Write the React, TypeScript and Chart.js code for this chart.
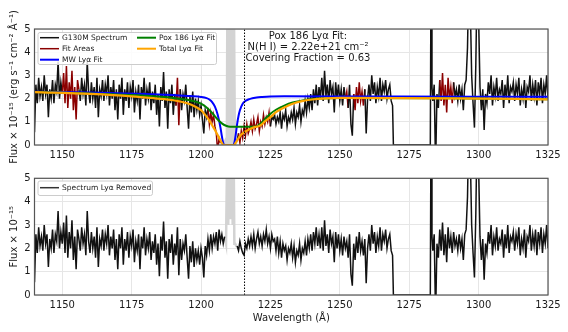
import React, { useEffect, useRef } from 'react';
import { Chart, registerables } from 'chart.js';

Chart.register(...registerables);

const FONT = "'DejaVu Sans', sans-serif";
const STEP = 0.5;

// ---------- tick labels ----------
const xTickValues = [1150, 1175, 1200, 1225, 1250, 1275, 1300, 1325];
const yTickValues = [0, 1, 2, 3, 4, 5];

// ---------- G130M spectrum (top panel), sampled every 0.5 Å ----------
const specTopA_start = 1140;
const specTopA = [
  0.55, 2.6, 1.8, 2.9, 2.1, 2.5, 1.9, 3.0, 2.2, 2.6,
  1.2, 2.4, 2.0, 2.8, 1.8, 2.6, 2.3, 3.6, 2.0, 2.7,
  2.2, 3.1, 1.8, 3.4, 1.6, 2.7, 2.0, 3.2, 1.5, 2.5,
  1.1, 2.8, 2.4, 1.9, 2.9, 2.2, 2.6, 1.7, 3.6, 2.3,
  1.8, 2.7, 2.0, 2.5, 1.6, 2.9, 1.2, 2.4, 2.1, 2.8,
  1.9, 2.6, 2.2, 3.0, 1.7, 2.5, 2.0, 2.8, 1.5, 2.4,
  1.1, 2.6, 2.0, 2.9, 1.3, 2.4, 1.9, 2.7, 1.6, 2.5,
  2.1, 2.8, 1.4, 2.3, 1.9, 2.6, 1.1, 2.5, 2.0, 2.9,
  1.7, 2.4, 2.0, 2.7, 1.5, 2.3, 1.8, 2.6, 1.3, 2.2,
  0.8, 2.5, 1.9, 3.15, 1.6, 2.3, 0.7, 2.4, 1.8, 2.6,
  1.3, 2.2, 1.7, 2.9, 0.85, 2.4, 1.5, 2.2, 1.9, 2.6,
  1.6, 0.7, 2.1, 1.4, 2.3, 1.2, 2.0, 1.5, 1.9, 1.3,
  1.7, 1.1, 0.5, 1.5, 1.2, 1.6, 0.9, 1.4, 1.0, 1.3,
  0.8, 0.5, -0.3, 0.3, 0.1,
];
const specTopB_start = 1213;
const specTopB = [
  0.2, 0.5, 0.1, 0.6, 0.3, 0.8, 0.4, 0.9, 0.5, 0.7,
  1.0, 0.6, 1.1, 0.7, 0.9, 1.2, 0.6, 1.0, 0.8, 1.3,
  0.9, 1.2, 1.0, 1.4, 0.8, 1.2, 1.1, 1.3, 0.9, 1.2,
  1.0, 1.4, 0.7, 1.3, 1.1, 1.5, 0.8, 1.2, 1.0, 1.4,
  1.1, 1.6, 0.9, 1.4, 1.2, 1.7, 1.0, 1.5, 1.3, 1.9,
  1.4, 2.0, 1.6, 2.2, 1.5, 2.4, 1.8, 2.6, 1.7, 2.5,
  2.0, 2.9, 1.9, 3.2, 2.1, 2.6, 1.8, 2.8, 2.2, 2.5,
  1.4, 2.7, 2.0, 2.6, 1.9, 2.4, 1.7, 2.5, 2.0, 2.3,
  1.6, 2.6, 0.9, 0.4, 2.2, 1.5, 2.5, 1.8, 2.7, 1.9,
  2.3, 1.7, 2.4, 0.5, 2.0, 2.6, 1.9, 3.0, 2.2, 2.7,
  1.8, 2.5, 2.1, 2.9, 1.9, 2.6, 2.3, 2.8, 2.0, 2.4,
  2.6, 1.9, 1.7,
];
// detector gap and edge spike
const gapX = [1269.3, 1282.6, 1282.9, 1283.2];
const gapY = [0, 0, 9, 2.5];
const specTopC_start = 1283.5;
const specTopC = [
  1.9, 2.6, -1.0, 2.2, 1.6, 2.8, 1.9, 3.1, 1.7,
  2.6, 1.4, 2.9, 2.0, 2.5, 1.8, 2.7, 2.1, 2.4, 1.9,
  2.6, 2.0, 2.4, 1.5, 2.6, 2.8, 4.2, 7.5, 6.0, 3.0,
  1.8, 0.75, 3.5, 7.5, 5.5, 2.5, 1.5, 2.4, 0.65, 2.2,
  1.8, 2.7, 2.2, 3.0, 1.7, 2.5, 2.1, 2.9, 1.9, 2.4,
  2.2, 2.8, 1.6, 2.6, 2.0, 3.0, 1.8, 2.5, 2.3, 2.7,
  1.9, 2.6, 2.2, 2.9, 1.7, 2.4, 2.0, 2.8, 1.6, 2.5,
  2.3, 3.0, 1.9, 2.6, 2.1, 2.8, 1.7, 2.7, 2.2, 2.9,
  1.8, 2.6, 2.2, 3.0, 2.0,
];

// geocoronal airglow (grey)
const glowTopX = [1207.0, 1208.0, 1208.8, 1209.3, 1209.5, 1209.8, 1210.1, 1210.5, 1210.9, 1211.2, 1211.5, 1211.8, 1212.2, 1212.6, 1213.0];
const glowTopY = [0.1, 0.0, 0.2, 0.0, 7, 0.0, 7, 0.0, 0.1, 7, 0.0, 7, 0.0, 0.1, 0.2];
const glowBotX = [1208.5, 1209.0, 1209.3, 1209.5, 1209.8, 1210.1, 1210.4, 1210.9, 1211.1, 1211.4, 1211.7, 1212.0, 1212.3, 1212.7, 1213.0];
const glowBotY = [2.5, 2.2, 2.2, 7, 3.0, 7, 3.3, 3.3, 7, 3.0, 7, 2.2, 2.2, 2.1, 2.1];

// ---------- Lyα-removed spectrum (bottom panel), corrected stretches ----------
const specBotA_start = 1200;
const specBotA = [2.0, 1.6, 0.75, 2.1, 1.7, 2.4, 1.9, 2.6, 2.0, 2.5, 2.2, 2.7, 1.9, 2.8, 2.3, 2.6, 2.2, 2.5];
const specBotB_start = 1213;
const specBotB = [
  2.1, 1.9, 2.3, 2.0, 1.8, 1.7, 2.2, 2.0, 2.4, 2.1,
  2.5, 2.1, 2.6, 2.0, 2.4, 2.7, 2.2, 2.5, 2.1, 2.6,
  2.3, 2.8, 2.2, 2.5, 2.0, 2.6, 2.3, 2.4, 1.9, 2.5,
  1.8, 2.3, 1.6, 2.2, 1.9, 2.1, 1.5, 2.0, 1.8, 2.2,
  1.6, 2.1, 1.4, 1.9, 1.7, 2.2, 1.5, 2.0, 1.8, 2.3,
  1.7, 2.4, 2.0, 2.6, 1.9, 2.7, 2.2, 2.9, 2.1, 2.6,
];

// ---------- fits ----------
const mwX = [1140, 1160, 1180, 1190, 1196, 1200, 1202, 1203, 1204, 1205, 1206, 1207, 1207.5, 1208, 1208.5, 1211.5, 1212, 1212.5, 1213, 1213.5, 1214, 1215, 1216, 1217, 1218, 1219, 1220, 1222, 1225, 1230, 1260, 1300, 1325];
const mwY = [2.30, 2.26, 2.20, 2.16, 2.11, 2.07, 2.02, 1.96, 1.85, 1.65, 1.30, 0.75, 0.38, 0.08, 0, 0, 0.1, 0.45, 0.9, 1.25, 1.5, 1.78, 1.9, 1.96, 2.0, 2.03, 2.05, 2.07, 2.09, 2.1, 2.09, 2.08, 2.08];
const poxX = [1140, 1160, 1175, 1185, 1190, 1195, 1198, 1200, 1202, 1204, 1206, 1207.5, 1209, 1210.5, 1219, 1220.5, 1222, 1223.5, 1225, 1227, 1230, 1233, 1237, 1242, 1250, 1290, 1325];
const poxY = [2.28, 2.22, 2.15, 2.08, 2.03, 1.95, 1.87, 1.78, 1.62, 1.38, 1.1, 0.93, 0.83, 0.79, 0.79, 0.84, 0.98, 1.18, 1.35, 1.52, 1.7, 1.83, 1.93, 2.0, 2.03, 2.01, 1.97];
const totX = [1140, 1160, 1175, 1183.5, 1190, 1195, 1198, 1200, 1201.5, 1203, 1204, 1205, 1206, 1207, 1207.7, 1208.2, 1211.7, 1212.5, 1213.5, 1214.5, 1216, 1217.5, 1219.5, 1221, 1222, 1223, 1225, 1227, 1230, 1233, 1236, 1240, 1245, 1250, 1290, 1325];
const totY = [2.28, 2.2, 2.1, 2.01, 1.93, 1.8, 1.65, 1.5, 1.3, 1.05, 0.85, 0.65, 0.42, 0.2, 0.05, 0, 0, 0.1, 0.3, 0.45, 0.58, 0.68, 0.78, 0.82, 0.9, 1.02, 1.2, 1.42, 1.62, 1.78, 1.88, 1.96, 2.01, 2.03, 2.01, 1.97];

const lyaRest = 1215.67;
const fitRanges = [[1149.8, 1156.1], [1190.7, 1192.8], [1202.3, 1207.1], [1213.4, 1225.2], [1251.8, 1253.4], [1254.6, 1259.3], [1285.8, 1291.3]];

const legendTop = ['G130M Spectrum', 'Fit Areas', 'MW Lyα Fit', 'Pox 186 Lyα Fit', 'Total Lyα Fit'];
const legendBot = ['Spectrum Lyα Removed'];
const annotation = ['Pox 186 Lyα Fit:', 'N(H I) = 2.22e+21 cm⁻²', 'Covering Fraction = 0.63'];

// ---------- styles ----------
const C_SPEC = '#111111';
const C_FIT = '#8b0000';
const C_MW = '#0000ff';
const C_POX = '#008000';
const C_TOT = '#ffa500';
const C_GLOW = '#d3d3d3';
const C_GRID = '#e6e6e6';
const C_FRAME = '#555555';
const C_TEXT = '#1a1a1a';
const SPEC_W = 1.5;

type P = { x: number; y: number | null };
const grid = (start: number, ys: number[]): P[] => ys.map((y, i) => ({ x: start + i * STEP, y }));
const pairs = (xs: number[], ys: number[]): P[] => xs.map((x, i) => ({ x, y: ys[i] }));
const brk = (x: number): P => ({ x, y: null });
const inFit = (x: number) => fitRanges.some(([a, b]) => x >= a && x <= b);

const topSpectrum: P[] = [
  ...grid(specTopA_start, specTopA),
  brk(1210),
  ...grid(specTopB_start, specTopB),
  ...pairs(gapX, gapY),
  ...grid(specTopC_start, specTopC),
];
const botSpectrum: P[] = [
  ...grid(specTopA_start, specTopA.slice(0, 120)),
  ...grid(specBotA_start, specBotA),
  brk(1210.5),
  ...grid(specBotB_start, specBotB),
  ...grid(1243, specTopB.slice(60)),
  ...pairs(gapX, gapY),
  ...grid(specTopC_start, specTopC),
];

function drawLegend(ctx: CanvasRenderingContext2D, box: [number, number, number, number], items: { label: string; color: string; width: number; x: number; y: number }[]) {
  const [bx, by, bw, bh] = box;
  ctx.save();
  ctx.fillStyle = 'rgba(255,255,255,0.85)';
  ctx.strokeStyle = '#cccccc';
  ctx.lineWidth = 1;
  ctx.beginPath();
  if ((ctx as any).roundRect) (ctx as any).roundRect(bx + 0.5, by + 0.5, bw, bh, 2);
  else ctx.rect(bx + 0.5, by + 0.5, bw, bh);
  ctx.fill();
  ctx.stroke();
  ctx.font = `7.5px ${FONT}`;
  ctx.textBaseline = 'middle';
  ctx.textAlign = 'left';
  for (const it of items) {
    ctx.strokeStyle = it.color;
    ctx.lineWidth = it.width;
    ctx.beginPath();
    ctx.moveTo(it.x, it.y);
    ctx.lineTo(it.x + 19, it.y);
    ctx.stroke();
    ctx.fillStyle = C_TEXT;
    ctx.fillText(it.label, it.x + 22, it.y + 0.5);
  }
  ctx.restore();
}

function frame(chart: any) {
  const { ctx, chartArea: a } = chart;
  ctx.save();
  ctx.strokeStyle = C_FRAME;
  ctx.lineWidth = 1.2;
  ctx.strokeRect(a.left, a.top, a.right - a.left, a.bottom - a.top);
  ctx.restore();
}

function makeScales(isTop: boolean) {
  return {
    x: {
      type: 'linear',
      min: 1140,
      max: 1325,
      afterBuildTicks: (s: any) => { s.ticks = xTickValues.map((v) => ({ value: v })); },
      afterFit: (s: any) => { s.height = isTop ? 23 : 37; },
      grid: { color: C_GRID, lineWidth: 1, drawTicks: false },
      border: { display: false },
      ticks: { font: { family: FONT, size: 10 }, color: C_TEXT, padding: 4, maxRotation: 0, autoSkip: false, callback: (v: any) => String(v) },
      title: isTop
        ? { display: false }
        : { display: true, text: 'Wavelength (Å)', font: { family: FONT, size: 10 }, color: C_TEXT, padding: { top: 0, bottom: 8 } },
    },
    y: {
      type: 'linear',
      min: 0,
      max: 5,
      afterBuildTicks: (s: any) => { s.ticks = yTickValues.map((v) => ({ value: v })); },
      afterFit: (s: any) => { s.width = 34.5; },
      grid: { color: C_GRID, lineWidth: 1, drawTicks: false },
      border: { display: false },
      ticks: { font: { family: FONT, size: 10 }, color: C_TEXT, padding: 4, callback: (v: any) => String(v) },
      title: {
        display: true,
        text: isTop ? 'Flux × 10⁻¹⁵ (erg s⁻¹ cm⁻² Å⁻¹)' : 'Flux × 10⁻¹⁵',
        font: { family: FONT, size: 10 },
        color: C_TEXT,
        padding: { top: 8, bottom: 0 },
      },
    },
  };
}

const lineBase = { pointRadius: 0, pointHoverRadius: 0, fill: false, tension: 0, spanGaps: false };

export default function App() {
  const topRef = useRef<HTMLCanvasElement>(null);
  const botRef = useRef<HTMLCanvasElement>(null);

  useEffect(() => {
    const top = new Chart(topRef.current as HTMLCanvasElement, {
      type: 'line',
      data: {
        datasets: [
          { ...lineBase, data: [{ x: lyaRest, y: 0 }, { x: lyaRest, y: 5 }], borderColor: '#000', borderWidth: 1, borderDash: [1.5, 1.5] },
          { ...lineBase, data: pairs(totX, totY), borderColor: C_TOT, borderWidth: 2.2, cubicInterpolationMode: 'monotone' },
          { ...lineBase, data: pairs(poxX, poxY), borderColor: C_POX, borderWidth: 2, cubicInterpolationMode: 'monotone' },
          { ...lineBase, data: pairs(mwX, mwY), borderColor: C_MW, borderWidth: 2, cubicInterpolationMode: 'monotone' },
          {
            ...lineBase,
            data: topSpectrum,
            borderColor: C_SPEC,
            borderWidth: SPEC_W,
            segment: { borderColor: (c: any) => (inFit(c.p0.parsed.x) && inFit(c.p1.parsed.x) ? C_FIT : undefined) },
          },
          { ...lineBase, data: pairs(glowTopX, glowTopY), borderColor: C_GLOW, borderWidth: 2.5 },
        ] as any,
      },
      options: {
        responsive: false,
        animation: false,
        events: [],
        layout: { padding: { left: 0, right: 20, top: 29, bottom: 0 } },
        plugins: { legend: { display: false }, tooltip: { enabled: false } },
        scales: makeScales(true) as any,
      },
      plugins: [
        {
          id: 'topDecor',
          afterDraw(chart: any) {
            frame(chart);
            const ctx = chart.ctx as CanvasRenderingContext2D;
            drawLegend(ctx, [37.5, 32, 178.5, 32], [
              { label: legendTop[0], color: C_SPEC, width: 1.5, x: 40, y: 37.7 },
              { label: legendTop[1], color: C_FIT, width: 1.5, x: 40, y: 48.7 },
              { label: legendTop[2], color: C_MW, width: 2, x: 40, y: 59.7 },
              { label: legendTop[3], color: C_POX, width: 2, x: 137, y: 37.7 },
              { label: legendTop[4], color: C_TOT, width: 2, x: 137, y: 48.7 },
            ]);
            ctx.save();
            ctx.font = `10px ${FONT}`;
            ctx.fillStyle = C_TEXT;
            ctx.textAlign = 'center';
            ctx.textBaseline = 'middle';
            annotation.forEach((t, i) => ctx.fillText(t, 308, 36.5 + i * 11));
            ctx.restore();
          },
        },
      ],
    });

    const bot = new Chart(botRef.current as HTMLCanvasElement, {
      type: 'line',
      data: {
        datasets: [
          { ...lineBase, data: [{ x: lyaRest, y: 0 }, { x: lyaRest, y: 5 }], borderColor: '#000', borderWidth: 1, borderDash: [1.5, 1.5] },
          { ...lineBase, data: botSpectrum, borderColor: C_SPEC, borderWidth: SPEC_W },
          { ...lineBase, data: pairs(glowBotX, glowBotY), borderColor: C_GLOW, borderWidth: 2.5 },
        ] as any,
      },
      options: {
        responsive: false,
        animation: false,
        events: [],
        layout: { padding: { left: 0, right: 20, top: 28.3, bottom: 0 } },
        plugins: { legend: { display: false }, tooltip: { enabled: false } },
        scales: makeScales(false) as any,
      },
      plugins: [
        {
          id: 'botDecor',
          afterDraw(chart: any) {
            frame(chart);
            drawLegend(chart.ctx, [37.5, 30.5, 114.5, 14.5], [
              { label: legendBot[0], color: '#333333', width: 1.5, x: 40, y: 37.7 },
            ]);
          },
        },
      ],
    });

    return () => {
      top.destroy();
      bot.destroy();
    };
  }, []);

  return (
    <div style={{ position: 'absolute', left: 0, top: 0, width: 568, height: 332, background: '#fff' }}>
      <canvas ref={topRef} width={568} height={168} style={{ position: 'absolute', left: 0, top: 0, width: 568, height: 168 }} />
      <canvas ref={botRef} width={568} height={182} style={{ position: 'absolute', left: 0, top: 150, width: 568, height: 182 }} />
    </div>
  );
}
